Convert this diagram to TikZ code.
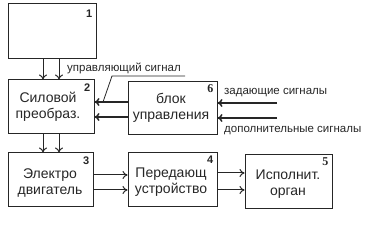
\documentclass[tikz,border=0pt]{standalone}
\usepackage{fontspec}
\setmainfont{Liberation Sans}
\newfontfamily\numserif{Liberation Serif}
\usetikzlibrary{arrows.meta}
\begin{document}
\begin{tikzpicture}[x=1pt,y=-1pt,
  blk/.style={draw=black!85,line width=1pt,minimum width=#1,minimum height=54pt,inner sep=0pt},
  blk/.default=86pt,
  lbl/.style={font=\fontsize{14}{16.5}\selectfont,align=center,text=black!85},
  num/.style={font=\fontsize{11}{12}\selectfont\bfseries,anchor=north east,inner sep=0pt,text=black!85},
  sig/.style={font=\fontsize{11.5}{12}\selectfont,anchor=west,inner sep=0pt,text=black!85},
  arr/.style={-{To[length=5pt,width=8pt]},line width=1pt,draw=black!85},
  arrb/.style={-{To[length=5pt,width=8pt]},line width=1.5pt,draw=black!85},
  lead/.style={line width=0.8pt,draw=black!85}]
\useasboundingbox (0,0) rectangle (370,227);
\node[blk=88pt,minimum height=55pt] (b1) at (52,31.5) {};
\node[blk=86pt] (b2) at (51,107) {};
\node[blk=89pt,minimum height=53pt] (b6) at (172.5,108.5) {};
\node[blk=85pt] (b3) at (50.5,180) {};
\node[blk=89pt] (b4) at (172.5,180) {};
\node[blk=87pt] (b5) at (288.5,182) {};
% numbers
\node[num] (n1) at ([xshift=-4pt,yshift=-6pt]b1.north east) {1};
\node[num] (n2) at ([xshift=-4pt,yshift=-4pt]b2.north east) {2};
\node[num,font=\fontsize{12}{12}\selectfont\bfseries\numserif] (n6) at ([xshift=-4pt,yshift=-3pt]b6.north east) {6};
\node[num] (n3) at ([xshift=-4pt,yshift=-4pt]b3.north east) {3};
\node[num] (n4) at ([xshift=-4pt,yshift=-3pt]b4.north east) {4};
\node[num,font=\fontsize{12}{12}\selectfont\bfseries\numserif] (n5) at ([xshift=-4pt,yshift=-3pt]b5.north east) {5};
% texts
\node[lbl] (t2) at (48,107) {Силовой\\преобраз.};
\node[lbl] (t6) at (171,108) {блок\\управления};
\node[lbl] (t3) at (50,183) {Электро\\двигатель};
\node[lbl] (t4) at (171,182) {Передающ\\устройство};
\node[lbl] (t5) at (288,184) {Исполнит.\\орган};
% arrows 1 -> 2
\draw[arr] ([xshift=-8pt]b2.north |- b1.south) -- ([xshift=-8pt]b2.north);
\draw[arr] ([xshift=8pt]b2.north |- b1.south) -- ([xshift=8pt]b2.north);
% arrows 2 -> 3
\draw[arr] ([xshift=-8pt]b2.south) -- ([xshift=-8pt]b2.south |- b3.north);
\draw[arr] ([xshift=8pt]b2.south) -- ([xshift=8pt]b2.south |- b3.north);
% arrows 6 -> 2
\draw[arrb] ([yshift=6.5pt]b6.west) -- ([yshift=6.5pt]b6.west -| b2.east);
\draw[arrb] ([yshift=-8.5pt]b6.west) -- ([yshift=-8.5pt]b6.west -| b2.east);
% arrows 3 -> 4
\draw[arr] ([yshift=5pt]b3.east) -- ([yshift=5pt]b3.east -| b4.west);
\draw[arr] ([yshift=-10pt]b3.east) -- ([yshift=-10pt]b3.east -| b4.west);
% arrows 4 -> 5
\draw[arr] ([yshift=7pt]b4.east) -- ([yshift=7pt]b4.east -| b5.west);
\draw[arr] ([yshift=-10pt]b4.east) -- ([yshift=-10pt]b4.east -| b5.west);
% inputs to 6
\coordinate (i1) at (277,103);
\coordinate (i2) at (277,118);
\draw[arrb] (i1) -- (i1 -| b6.east);
\draw[arrb] (i2) -- (i2 -| b6.east);
\node[sig] (s1) at (224,93) {задающие сигналы};
\node[sig] (s2) at (224,131) {дополнительные сигналы};
% control signal label
\node[sig] (s0) at (67,68) {управляющий сигнал};
\coordinate (l1) at (185,76);
\coordinate (l2) at (112,76);
\coordinate (l3) at (103,102);
\draw[lead] (l1) -- (l2) -- (l3);
\end{tikzpicture}
\end{document}
